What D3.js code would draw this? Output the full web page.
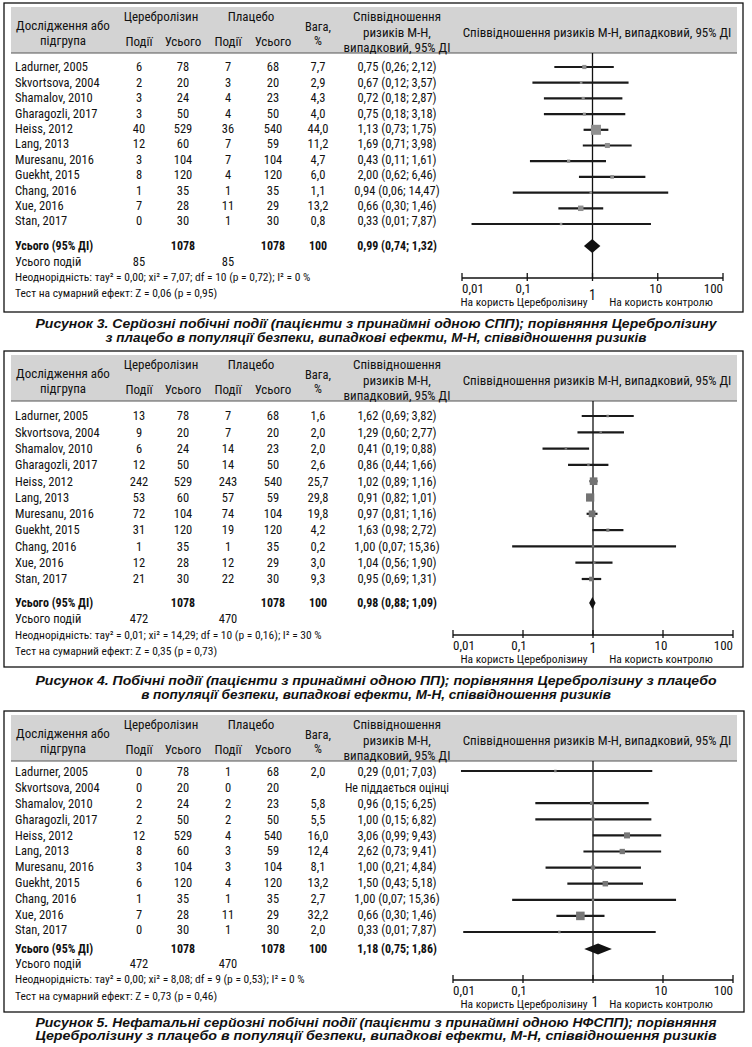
<!DOCTYPE html>
<html><head><meta charset="utf-8">
<script src="https://cdn.jsdelivr.net/npm/d3@7"></script>
<style>
body{margin:0;background:#fff;}
svg{display:block;}
.n{font-family:"Liberation Sans Narrow","Arial Narrow","Roboto Condensed","Liberation Sans",sans-serif;fill:#111;}
.cap{font-family:"Liberation Sans",Arial,sans-serif;font-weight:bold;font-style:italic;fill:#111;}
</style></head><body>
<svg id="c" width="752" height="1047"></svg>
<script>
// ---------- DATA ----------
const studies = ["Ladurner, 2005","Skvortsova, 2004","Shamalov, 2010","Gharagozli, 2017","Heiss, 2012","Lang, 2013","Muresanu, 2016","Guekht, 2015","Chang, 2016","Xue, 2016","Stan, 2017"];
const cereTotal = [78,20,24,50,529,60,104,120,35,28,30];
const placTotal = [68,20,23,50,540,59,104,120,35,29,30];
const tickValues = [0.01,0.1,1,10,100];
const tickLabels = ["0,01","0,1","1","10","100"];

// Figure 3
const f3CereEvents = [6,2,3,3,40,12,3,8,1,7,0];
const f3PlacEvents = [7,3,4,4,36,7,7,4,1,11,1];
const f3Weight = [7.7,2.9,4.3,4.0,44.0,11.2,4.7,6.0,1.1,13.2,0.8];
const f3RR = [0.75,0.67,0.72,0.75,1.13,1.69,0.43,2.00,0.94,0.66,0.33];
const f3Lo = [0.26,0.12,0.18,0.18,0.73,0.71,0.11,0.62,0.06,0.30,0.014];
const f3Hi = [2.12,3.57,2.87,3.18,1.75,3.98,1.61,6.46,14.47,1.46,7.87];
const f3Total = {rr:0.99, lo:0.74, hi:1.32, cereN:1078, placN:1078, w:100, cereEv:85, placEv:85};
const f3Het = "Неоднорідність: тау² = 0,00; хі² = 7,07; df = 10 (p = 0,72); I² = 0 %";
const f3Test = "Тест на сумарний ефект: Z = 0,06 (p = 0,95)";
const f3Caption = ["Рисунок 3. Серйозні побічні події (пацієнти з принаймні одною СПП); порівняння Церебролізину","з плацебо в популяції безпеки, випадкові ефекти, М-Н, співвідношення ризиків"];

// Figure 4
const f4CereEvents = [13,9,6,12,242,53,72,31,1,12,21];
const f4PlacEvents = [7,7,14,14,243,57,74,19,1,12,22];
const f4Weight = [1.6,2.0,2.0,2.6,25.7,29.8,19.8,4.2,0.2,3.0,9.3];
const f4RR = [1.62,1.29,0.41,0.86,1.02,0.91,0.97,1.63,1.00,1.04,0.95];
const f4Lo = [0.69,0.60,0.19,0.44,0.89,0.82,0.81,0.98,0.07,0.56,0.69];
const f4Hi = [3.82,2.77,0.88,1.66,1.16,1.01,1.16,2.72,15.36,1.90,1.31];
const f4Total = {rr:0.98, lo:0.88, hi:1.09, cereN:1078, placN:1078, w:100, cereEv:472, placEv:470};
const f4Het = "Неоднорідність: тау² = 0,01; хі² = 14,29; df = 10 (p = 0,16); I² = 30 %";
const f4Test = "Тест на сумарний ефект: Z = 0,35 (p = 0,73)";
const f4Caption = ["Рисунок 4. Побічні події (пацієнти з принаймні одною ПП); порівняння Церебролізину з плацебо","в популяції безпеки, випадкові ефекти, М-Н, співвідношення ризиків"];

// Figure 5
const f5CereEvents = [0,0,2,2,12,8,3,6,1,7,0];
const f5PlacEvents = [1,0,2,2,4,3,3,4,1,11,1];
const f5Weight = [2.0,null,5.8,5.5,16.0,12.4,8.1,13.2,2.7,32.2,2.0];
const f5RR = [0.29,null,0.96,1.00,3.06,2.62,1.00,1.50,1.00,0.66,0.33];
const f5Lo = [0.013,null,0.15,0.15,0.99,0.73,0.21,0.43,0.07,0.30,0.014];
const f5Hi = [7.03,null,6.25,6.82,9.43,9.41,4.84,5.18,15.36,1.46,7.87];
const f5Total = {rr:1.18, lo:0.75, hi:1.86, cereN:1078, placN:1078, w:100, cereEv:472, placEv:470};
const f5Het = "Неоднорідність: тау² = 0,00; хі² = 8,08; df = 9 (p = 0,53); I² = 0 %";
const f5Test = "Тест на сумарний ефект: Z = 0,73 (p = 0,46)";
const f5Caption = ["Рисунок 5. Нефатальні серйозні побічні події (пацієнти з принаймні одною НФСПП); порівняння","Церебролізину з плацебо в популяції безпеки, випадкові ефекти, М-Н, співвідношення ризиків"];
const notEstimable = "Не піддається оцінці";

// ---------- DRAW ----------
const svg = d3.select("#c");
const fmt2 = v => d3.format(".2f")(v).replace(".", ",");
const fmt1 = v => d3.format(".1f")(v).replace(".", ",");
const sizeScale = d3.scaleSqrt().domain([0,44]).range([0,10]);

function panel(cfg, d) {
  const g = svg.append("g");
  g.append("rect").attr("x",4).attr("y",cfg.top).attr("width",cfg.right-4).attr("height",cfg.bottom-cfg.top)
    .attr("fill","none").attr("stroke","#111").attr("stroke-width",1.3);
  const gt = cfg.top+4, gb = gt+46;
  g.append("rect").attr("x",11).attr("y",gt).attr("width",726).attr("height",gb-gt).attr("fill","#d3d3d3");
  g.append("line").attr("x1",11).attr("x2",737).attr("y1",gb).attr("y2",gb).attr("stroke","#555").attr("stroke-width",1);

  const txt = (x,y,s,opt={}) => g.append("text").attr("class","n").attr("x",x).attr("y",y)
     .attr("dy","0.35em").attr("text-anchor",opt.anchor||"middle")
     .style("font-size",(opt.size||12.5)+"px").style("font-weight",opt.bold?"bold":"normal").text(s);

  txt(63,gt+18,"Дослідження або",{size:13});
  txt(63,gt+33,"підгрупа",{size:13});
  txt(161,gt+9,"Церебролізин",{size:13});
  txt(251,gt+9,"Плацебо",{size:13});
  txt(139,gt+34,"Події",{size:13}); txt(183,gt+34,"Усього",{size:13});
  txt(228,gt+34,"Події",{size:13}); txt(273,gt+34,"Усього",{size:13});
  txt(318,gt+20,"Вага,",{size:12.5}); txt(318,gt+34,"%",{size:12.5});
  txt(397,gt+9,"Співвідношення",{size:13});
  txt(397,gt+25,"ризиків М-Н,",{size:13});
  txt(397,gt+40,"випадковий, 95% ДІ",{size:13});
  txt(597,gt+25,"Співвідношення ризиків М-Н, випадковий, 95% ДІ",{size:13});

  const yText = d3.scalePoint().domain(d3.range(studies.length)).range(cfg.textRows);
  const yPlot = d3.scalePoint().domain(d3.range(studies.length)).range(cfg.plotRows);
  const x = d3.scaleLog().domain([0.01,100]).range(cfg.xr);

  studies.forEach((s,i)=>{
    const y = yText(i);
    txt(15,y,s,{anchor:"start"});
    txt(139,y,d.cereEv[i]); txt(183,y,cereTotal[i]);
    txt(228,y,d.placEv[i]); txt(273,y,placTotal[i]);
    if (d.w[i]!=null) txt(318,y,fmt1(d.w[i]));
    if (d.rr[i]!=null) txt(397,y,`${fmt2(d.rr[i])} (${fmt2(d.lo[i])}; ${fmt2(d.hi[i])})`);
    else txt(397,y,notEstimable,{size:12});
  });
  txt(15,cfg.total,"Усього (95% ДІ)",{anchor:"start",bold:true,size:12});
  txt(183,cfg.total,d.tot.cereN,{bold:true,size:12});
  txt(273,cfg.total,d.tot.placN,{bold:true,size:12});
  txt(318,cfg.total,d.tot.w,{bold:true,size:12});
  txt(397,cfg.total,`${fmt2(d.tot.rr)} (${fmt2(d.tot.lo)}; ${fmt2(d.tot.hi)})`,{bold:true,size:12});
  txt(15,cfg.events,"Усього подій",{anchor:"start"});
  txt(139,cfg.events,d.tot.cereEv); txt(228,cfg.events,d.tot.placEv);
  txt(15,cfg.het,d.het,{anchor:"start",size:11.5});
  txt(15,cfg.test,d.test,{anchor:"start",size:11.5});

  g.append("line").attr("x1",x(1)).attr("x2",x(1)).attr("y1",gb).attr("y2",cfg.axisY)
    .attr("stroke","#111").attr("stroke-width",1.3);
  studies.forEach((s,i)=>{
    if (d.rr[i]==null) return;
    const y = yPlot(i);
    g.append("line").attr("x1",x(d.lo[i])).attr("x2",x(d.hi[i])).attr("y1",y).attr("y2",y)
      .attr("stroke","#1a1a1a").attr("stroke-width",2.2);
    const sz = Math.max(2.5,sizeScale(d.w[i]));
    g.append("rect").attr("x",x(d.rr[i])-sz/2).attr("y",y-sz/2).attr("width",sz).attr("height",sz)
      .attr("fill",cfg.sq);
  });
  const ty = cfg.total, hh = cfg.dh;
  g.append("path").attr("d",`M${x(d.tot.lo)},${ty} L${x(d.tot.rr)},${ty-hh} L${x(d.tot.hi)},${ty} L${x(d.tot.rr)},${ty+hh} Z`)
    .attr("fill","#111");
  g.append("line").attr("x1",x(0.01)).attr("x2",x(100)).attr("y1",cfg.axisY).attr("y2",cfg.axisY)
    .attr("stroke","#111").attr("stroke-width",1.3);
  tickValues.forEach((t,i)=>{
    g.append("line").attr("x1",x(t)).attr("x2",x(t)).attr("y1",cfg.axisY-5).attr("y2",cfg.axisY+3)
      .attr("stroke","#111").attr("stroke-width",1.3);
    const anchor = i===0?"start":(i===tickValues.length-1?"end":"middle");
    const dx = i===1?-4:(i===3?-2:0);
    let ly = cfg.axisY+10, size=13;
    if (t===1) { ly = cfg.oneY; size = 14; }
    txt(x(t)+dx + (t===1?cfg.oneDx:0),ly,tickLabels[i],{anchor:anchor,size:size});
  });
  txt(524,cfg.axisY+24,"На користь Церебролізину",{size:11.5});
  txt(661,cfg.axisY+24,"На користь контролю",{size:11.5});

  g.append("text").attr("class","cap").attr("x",376).attr("y",cfg.cap[0]).attr("dy","0.35em")
    .attr("text-anchor","middle").style("font-size","13.5px").text(d.caption[0])
    .attr("textLength",681).attr("lengthAdjust","spacingAndGlyphs");
  const c2 = g.append("text").attr("class","cap").attr("x",376).attr("y",cfg.cap[1]).attr("dy","0.35em")
    .attr("text-anchor","middle").style("font-size","13.5px").text(d.caption[1]);
  if (cfg.justify2) c2.attr("textLength",681).attr("lengthAdjust","spacingAndGlyphs");
}

panel({top:3,bottom:312,right:743,textRows:[67,221],plotRows:[67,224],total:246,events:262,het:277,test:293,
       axisY:278,oneY:295,oneDx:0,xr:[462,723],cap:[323,337],sq:"#8f8f8f",dh:7,justify2:false},
      {cereEv:f3CereEvents,placEv:f3PlacEvents,w:f3Weight,rr:f3RR,lo:f3Lo,hi:f3Hi,tot:f3Total,het:f3Het,test:f3Test,caption:f3Caption});
panel({top:351,bottom:667,right:743,textRows:[416,579],plotRows:[416,579],total:603,events:619,het:635,test:651,
       axisY:635,oneY:648,oneDx:0,xr:[453,733],cap:[680,694],sq:"#737373",dh:6,justify2:false},
      {cereEv:f4CereEvents,placEv:f4PlacEvents,w:f4Weight,rr:f4RR,lo:f4Lo,hi:f4Hi,tot:f4Total,het:f4Het,test:f4Test,caption:f4Caption});
panel({top:711,bottom:1012,right:744,textRows:[772,930],plotRows:[771,932],total:949,events:964,het:979,test:996,
       axisY:980,oneY:1002,oneDx:2,xr:[453,733],cap:[1022,1035],sq:"#777777",dh:5.5,justify2:true},
      {cereEv:f5CereEvents,placEv:f5PlacEvents,w:f5Weight,rr:f5RR,lo:f5Lo,hi:f5Hi,tot:f5Total,het:f5Het,test:f5Test,caption:f5Caption});
</script>
</body></html>
